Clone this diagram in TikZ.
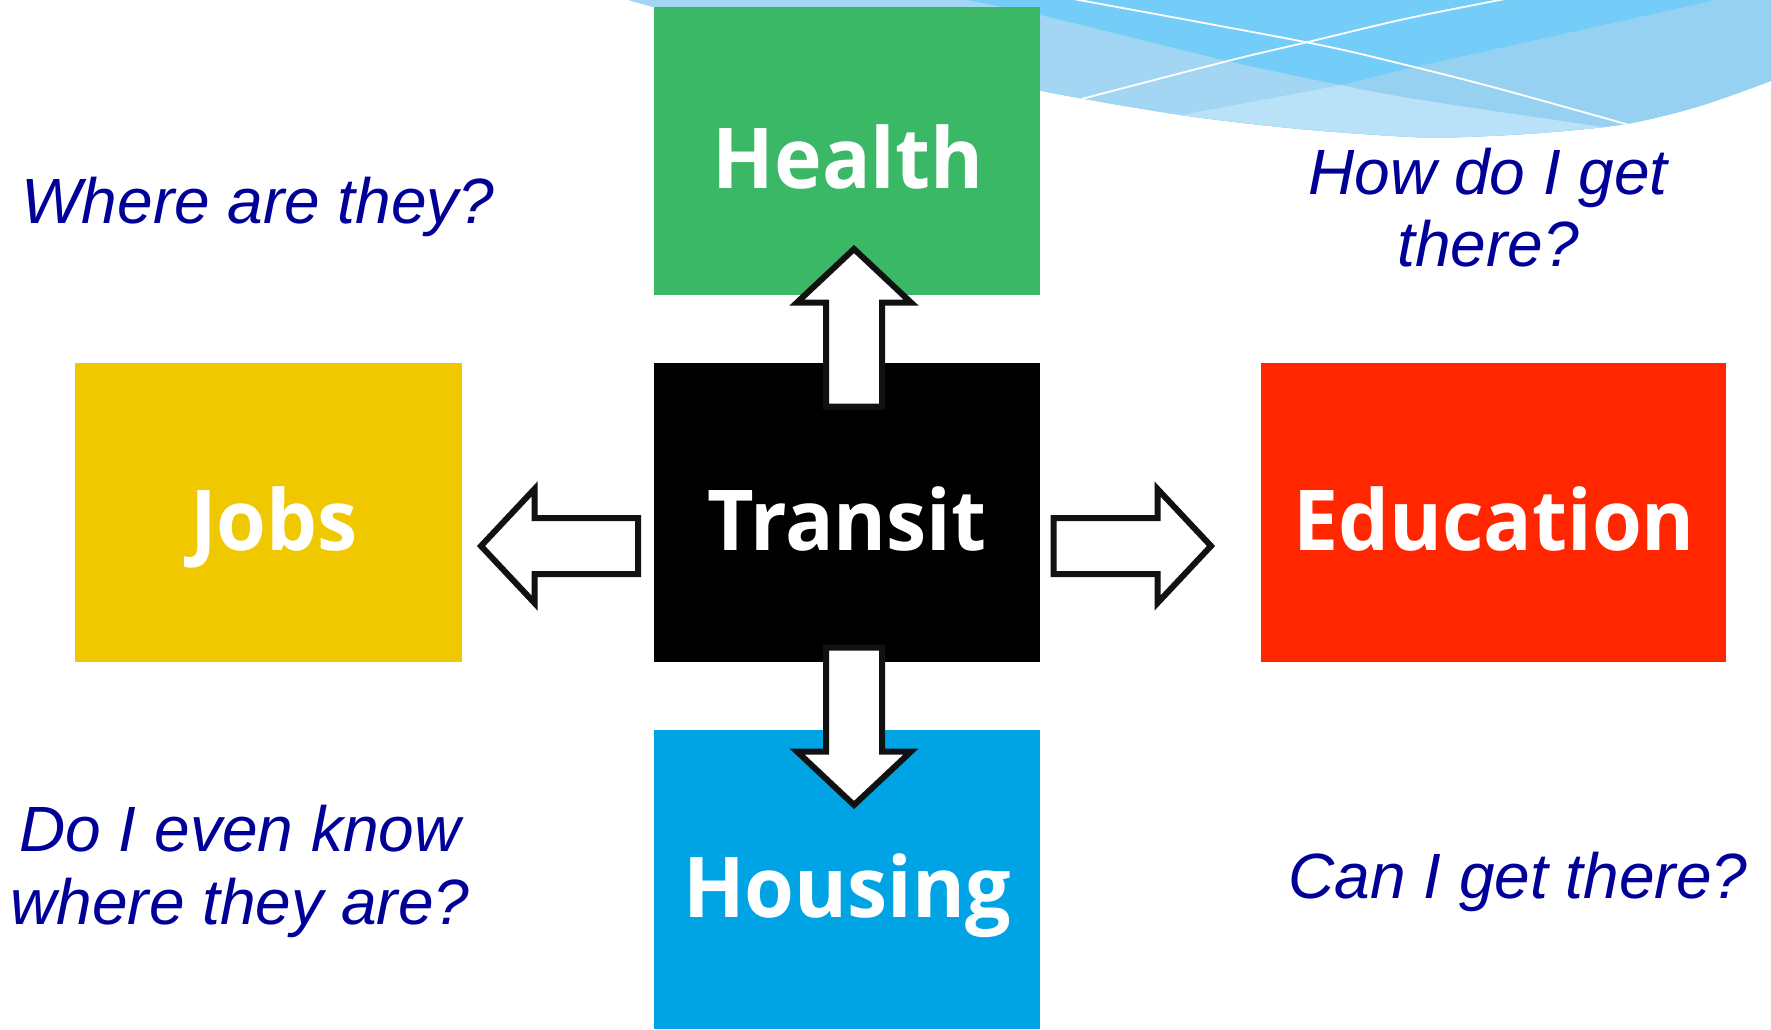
\documentclass[tikz,border=0pt]{standalone}
\usepackage{fontspec}
\setmainfont{Liberation Sans}
\newfontfamily\qfont{Liberation Sans}
\newfontfamily\bfont{Open Sans}[FakeStretch=0.96]
\usetikzlibrary{calc}
\definecolor{hgreen}{HTML}{3AB865}
\definecolor{jyellow}{HTML}{F0C800}
\definecolor{ered}{HTML}{FF2600}
\definecolor{hblue}{HTML}{00A3E4}
\definecolor{qnavy}{HTML}{000099}
\definecolor{arrowdark}{HTML}{111111}
\definecolor{wdark}{HTML}{73CDF8}
\definecolor{wleft}{HTML}{A3D6F3}
\definecolor{wright}{HTML}{97D1F1}
\definecolor{wlight}{HTML}{B9E1F7}
\begin{document}
\begin{tikzpicture}[x=1pt,y=-1pt,
  box/.style={rectangle,inner sep=0pt,outer sep=0pt,draw=none},
  lbl/.style={inner sep=0pt,anchor=base,text=white,font=\bfont\bfseries\fontsize{84}{90}\selectfont},
  q/.style={inner sep=0pt,anchor=base,text=qnavy,align=center,font=\qfont\itshape\fontsize{64}{72.5}\selectfont},
  arrowline/.style={draw=arrowdark,fill=white,line width=6pt,line join=miter},
  wline/.style={draw=white,line width=1.8pt},
  pics/barrow/.style={code={
    \draw[arrowline] (0,-28) -- (#1-53.5,-28) -- (#1-53.5,-57) -- (#1,0)
      -- (#1-53.5,57) -- (#1-53.5,28) -- (0,28) -- cycle;}}
]
\useasboundingbox (0,0) rectangle (1771,1029);

% background wave
\begin{scope}
\clip plot[smooth] coordinates {(622,-4) (653,6.7) (850,50) (1040,90.7) (1181,115) (1300,129) (1406,136.7) (1456,137.3) (1540,133) (1626,124) (1700,106) (1776,79)} -- (1776,-4) -- cycle;
\fill[wdark] (600,-6) rectangle (1780,160);
\fill[wleft] plot[smooth] coordinates {(950,-5) (967,0) (1040,15) (1227,61) (1340,85) (1406,97.5) (1500,112) (1610,128) (1700,142)} -- (1700,300) -- (500,300) -- (500,-5) -- cycle;
\fill[wright] plot[smooth] coordinates {(1080,135) (1181,115) (1340,85) (1406,69) (1550,37) (1725,-2)} -- (1790,-5) -- (1790,300) -- (1080,300) -- cycle;
\begin{scope}
\clip plot[smooth] coordinates {(950,-5) (967,0) (1040,15) (1227,61) (1340,85) (1406,97.5) (1500,112) (1610,128) (1700,142)} -- (1700,300) -- (500,300) -- (500,-5) -- cycle;
\fill[wlight] plot[smooth] coordinates {(1080,135) (1181,115) (1340,85) (1406,69) (1550,37) (1725,-2)} -- (1790,-5) -- (1790,300) -- (1080,300) -- cycle;
\end{scope}
\draw[wline] plot[smooth] coordinates {(1068,-2) (1306.7,42.3) (1406,65) (1500,89) (1640,128)};
\draw[wline] plot[smooth] coordinates {(1070,102) (1231.7,60) (1306.7,42.3) (1406,18.7) (1510,-2)};
\end{scope}

% boxes
\node[box,fill=hgreen,minimum width=386,minimum height=288] (health) at (847,151) {};
\node[box,fill=black,minimum width=386,minimum height=299] (transit) at (847,512.5) {};
\node[box,fill=jyellow,minimum width=387.5,minimum height=299] (jobs) at (268.25,512.5) {};
\node[box,fill=ered,minimum width=465,minimum height=299] (education) at (1493.5,512.5) {};
\node[box,fill=hblue,minimum width=386,minimum height=299] (housing) at (847,879.5) {};

% labels
\node[lbl] (healthlbl) at (848,188) {Health};
\node[lbl] (transitlbl) at (847,550) {Transit};
\node[lbl] (jobslbl) at (274,550) {Jobs};
\node[lbl] (educationlbl) at (1494,550) {Education};
\node[lbl] (housinglbl) at (847,917) {Housing};

% block arrows
\coordinate (aup) at ($(transit.north)+(7,43.5)$);
\coordinate (adown) at ($(transit.south)+(7,-14.5)$);
\coordinate (aleft) at ($(transit.west)+(-16,33.5)$);
\coordinate (aright) at ($(transit.east)+(13.7,33.5)$);
\pic[rotate=90] at (aup) {barrow=157.5};
\pic[rotate=-90] at (adown) {barrow=157.5};
\pic[rotate=180] at (aleft) {barrow=157};
\pic at (aright) {barrow=157.3};

% questions
\node[q] (q1) at (258,223) {Where are they?};
\node[q] (q2) at (1488,266.6) {How do I get\\there?};
\node[q] (q3) at (240,924) {Do I even know\\where they are?};
\node[q] (q4) at (1518,898) {Can I get there?};
\end{tikzpicture}
\end{document}
